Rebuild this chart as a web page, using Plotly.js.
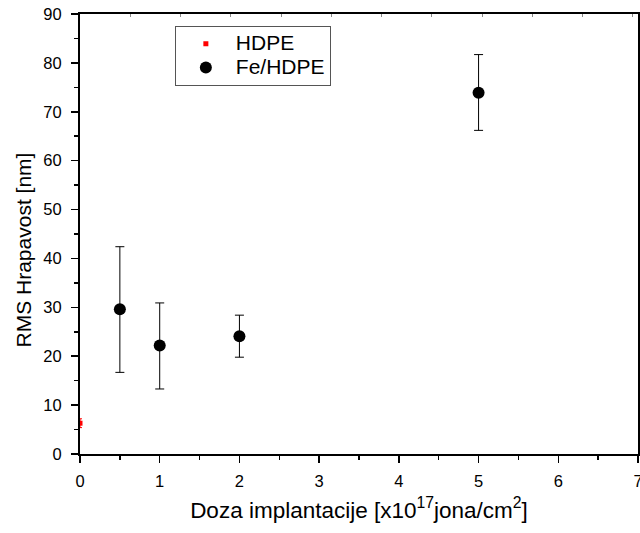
<!DOCTYPE html>
<html>
<head>
<meta charset="utf-8">
<script src="https://cdn.plot.ly/plotly-3.0.1.min.js"></script>
<style>html,body{margin:0;padding:0;background:#fff;}#chart{width:640px;height:533px;}</style>
</head>
<body>
<div id="chart"></div>
<script>
// HDPE series
const hdpeX = [0];
const hdpeY = [6.3];
const hdpeErr = [0.9];
// Fe/HDPE series
const feX = [0.5, 1, 2, 5];
const feY = [29.6, 22.2, 24.1, 73.9];
const feErrPlus = [12.8, 8.7, 4.3, 7.8];
const feErrMinus = [12.9, 8.9, 4.3, 7.7];
// names / titles
const seriesNames = ['HDPE', 'Fe/HDPE'];
const xTitle = 'Doza implantacije [x10<sup>17</sup>jona/cm<sup>2</sup>]';
const yTitle = 'RMS Hrapavost [nm]';

const FONT = 'Liberation Sans, Arial, sans-serif';
const big = s => '<span style="font-size:21px">' + s + '</span>';

const traces = [
  {
    x: hdpeX, y: hdpeY, name: big(seriesNames[0]), type: 'scatter', mode: 'markers',
    marker: {symbol: 'square', size: 5, color: '#ff0000'},
    error_y: {type: 'data', array: hdpeErr, color: '#ff0000', thickness: 1, width: 2}
  },
  {
    x: feX, y: feY, name: big(seriesNames[1]), type: 'scatter', mode: 'markers',
    marker: {symbol: 'circle', size: 12, color: '#000000'},
    error_y: {type: 'data', symmetric: false, array: feErrPlus, arrayminus: feErrMinus, color: '#000000', thickness: 1, width: 4.5}
  },
  {
    x: [0], y: [0], xaxis: 'x2', yaxis: 'y', showlegend: false, hoverinfo: 'skip',
    mode: 'markers', marker: {opacity: 0}
  }
];

const layout = {
  width: 640, height: 533,
  margin: {l: 80, r: 2, t: 14, b: 79},
  paper_bgcolor: '#ffffff', plot_bgcolor: '#ffffff',
  font: {family: FONT, color: '#000'},
  showlegend: true,
  legend: {
    x: 0.17, y: 0.973, xanchor: 'left', yanchor: 'top',
    bordercolor: '#555', borderwidth: 1, bgcolor: '#fff',
    font: {family: FONT, size: 16, color: '#000'},
    itemwidth: 50, tracegroupgap: 0
  },
  xaxis: {
    range: [0, 7], dtick: 1, tick0: 0,
    showgrid: false, zeroline: false,
    showline: true, linecolor: '#000', linewidth: 2, mirror: true,
    ticks: 'outside', ticklen: 7, tickwidth: 1.5, tickcolor: '#000',
    minor: {ticks: 'outside', ticklen: 4, dtick: 0.5, tickcolor: '#000', tickwidth: 1.5},
    tickfont: {family: FONT, size: 16.5, color: '#000'},
    ticklabelstandoff: 4, ticklabeloverflow: 'allow',
    title: {text: xTitle, font: {family: FONT, size: 22.5, color: '#000'}, standoff: 13}
  },
  xaxis2: {
    overlaying: 'x', side: 'top', range: [0, 11.1], dtick: 1,
    showgrid: false, zeroline: false, showticklabels: false, showline: false,
    ticks: 'inside', ticklen: 3, tickcolor: '#888', tickwidth: 1
  },
  yaxis: {
    range: [0, 90], dtick: 10, tick0: 0,
    showgrid: false, zeroline: false,
    showline: true, linecolor: '#000', linewidth: 2, mirror: true,
    ticks: 'outside', ticklen: 7, tickwidth: 1.5, tickcolor: '#000',
    minor: {ticks: 'outside', ticklen: 4, dtick: 5, tickcolor: '#000', tickwidth: 1.5},
    tickfont: {family: FONT, size: 16.5, color: '#000'},
    ticklabelstandoff: 6
  },
  annotations: [
    {
      text: yTitle, textangle: -90, showarrow: false,
      xref: 'paper', yref: 'paper', x: -0.1004, y: 0.4648,
      xanchor: 'center', yanchor: 'middle',
      font: {family: FONT, size: 21, color: '#000'}
    }
  ]
};

Plotly.newPlot('chart', traces, layout, {displayModeBar: false, staticPlot: true});
</script>
</body>
</html>
